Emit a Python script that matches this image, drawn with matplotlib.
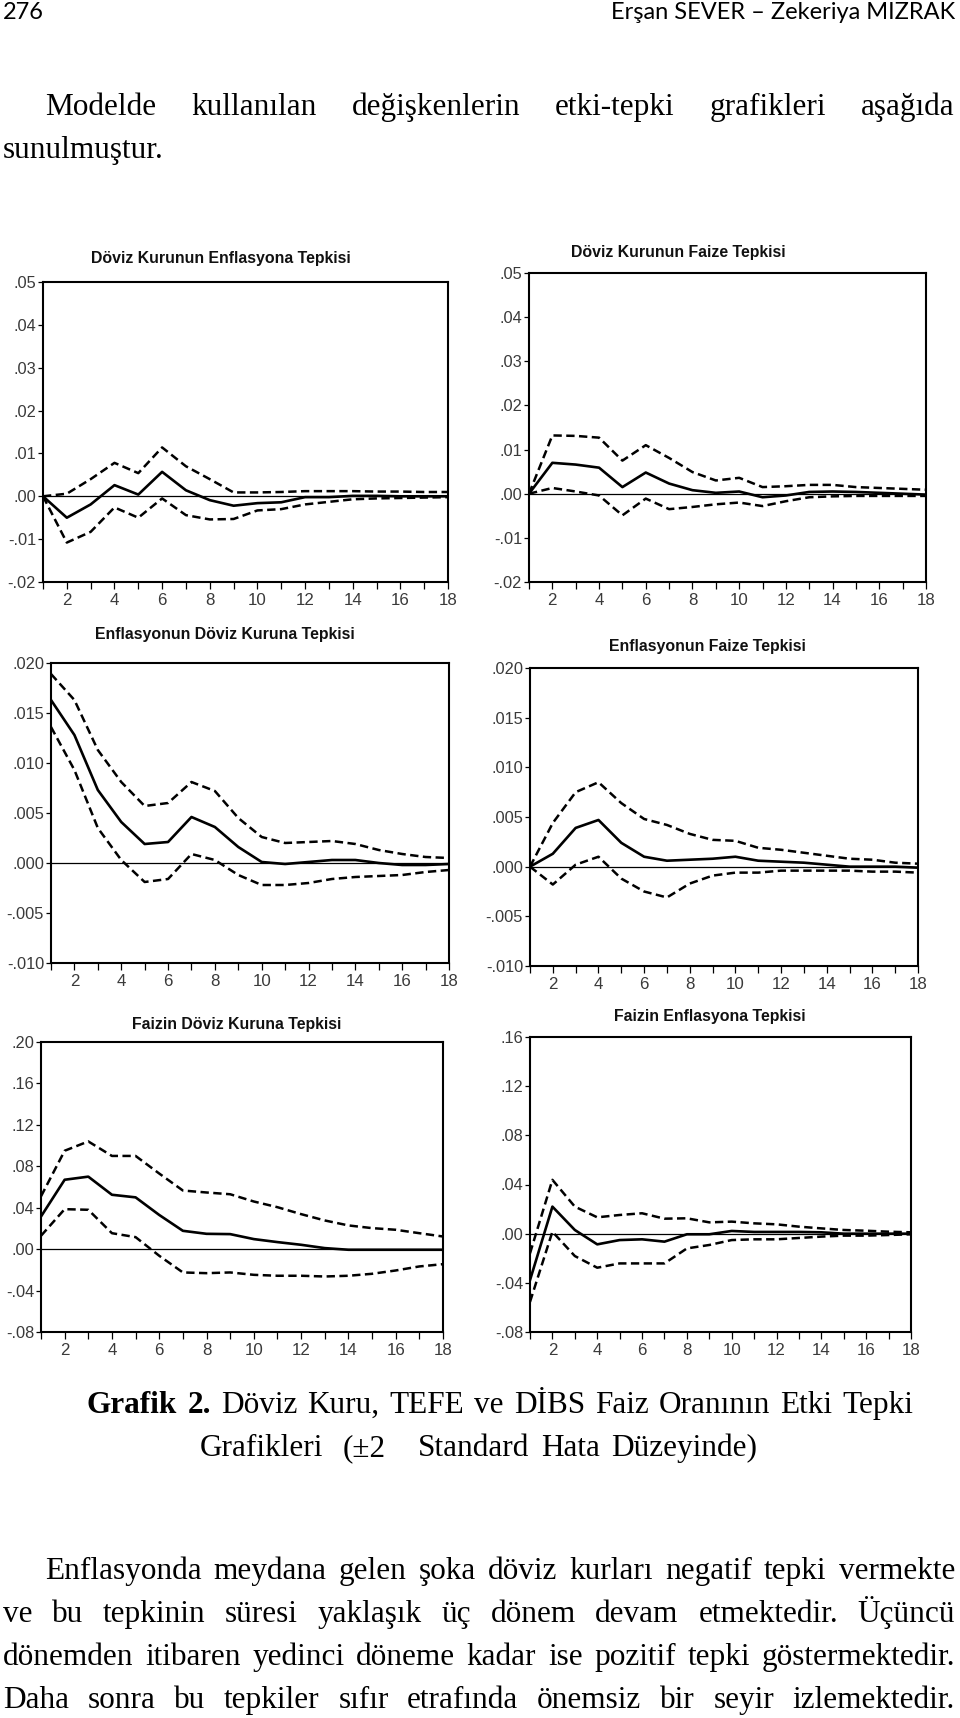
import matplotlib
matplotlib.use("Agg")
import matplotlib.pyplot as plt
import numpy as np

plt.rcParams['lines.scale_dashes'] = False

W, H = 960, 1718
fig = plt.figure(figsize=(W / 100, H / 100), dpi=100)
renderer = fig.canvas.get_renderer()

# ---------------- data ----------------
periods = list(range(1, 19))

kur_enf_resp  = [0.0, -0.0050, -0.0019, 0.0026, 0.0004, 0.0057, 0.0014, -0.0009, -0.0022,
                 -0.0016, -0.0014, -0.0002, -0.0002, 0.0001, 0.0001, 0.0, 0.0, 0.0]
kur_enf_upper = [0.0, 0.0006, 0.0040, 0.0078, 0.0054, 0.0114, 0.0070, 0.0040, 0.0009,
                 0.0009, 0.0010, 0.0012, 0.0012, 0.0012, 0.0011, 0.0011, 0.0010, 0.0010]
kur_enf_lower = [0.0, -0.0108, -0.0083, -0.0026, -0.0050, -0.0005, -0.0044, -0.0054, -0.0053,
                 -0.0033, -0.0030, -0.0019, -0.0013, -0.0007, -0.0005, -0.0004, -0.0003, -0.0002]

kur_faiz_resp  = [0.0, 0.0070, 0.0066, 0.0059, 0.0015, 0.0048, 0.0023, 0.0008, 0.0002,
                  0.0005, -0.0008, -0.0004, 0.0004, 0.0005, 0.0004, 0.0002, 0.0, -0.0002]
kur_faiz_upper = [0.0, 0.0132, 0.0131, 0.0127, 0.0075, 0.0110, 0.0081, 0.0049, 0.0030,
                  0.0036, 0.0015, 0.0017, 0.0020, 0.0020, 0.0015, 0.0013, 0.0011, 0.0009]
kur_faiz_lower = [0.0, 0.0013, 0.0005, -0.0004, -0.0049, -0.0011, -0.0035, -0.0030, -0.0024,
                  -0.0020, -0.0028, -0.0017, -0.0008, -0.0006, -0.0005, -0.0005, -0.0005, -0.0005]

enf_kur_resp  = [0.0163, 0.0128, 0.0073, 0.0041, 0.0019, 0.0021, 0.0046, 0.0036, 0.0016,
                 0.0001, -0.0001, 0.0001, 0.0003, 0.0003, 0.0, -0.0002, -0.0002, -0.0001]
enf_kur_upper = [0.0189, 0.0163, 0.0113, 0.0081, 0.0057, 0.0060, 0.0081, 0.0072, 0.0045,
                 0.0026, 0.0020, 0.0021, 0.0022, 0.0019, 0.0013, 0.0009, 0.0006, 0.0005]
enf_kur_lower = [0.0136, 0.0093, 0.0035, 0.0003, -0.0019, -0.0016, 0.0009, 0.0003, -0.0012,
                 -0.0022, -0.0022, -0.0020, -0.0016, -0.0014, -0.0013, -0.0012, -0.0009, -0.0007]

enf_faiz_resp  = [0.0, 0.0013, 0.0039, 0.0047, 0.0024, 0.0010, 0.0006, 0.0007, 0.0008,
                  0.0010, 0.0006, 0.0005, 0.0004, 0.0002, 0.0, 0.0, 0.0, -0.0001]
enf_faiz_upper = [0.0, 0.0044, 0.0075, 0.0085, 0.0064, 0.0048, 0.0042, 0.0033, 0.0027,
                  0.0026, 0.0019, 0.0017, 0.0014, 0.0011, 0.0008, 0.0007, 0.0004, 0.0003]
enf_faiz_lower = [0.0, -0.0018, 0.0002, 0.0010, -0.0012, -0.0025, -0.0031, -0.0017, -0.0009,
                  -0.0006, -0.0006, -0.0004, -0.0004, -0.0004, -0.0004, -0.0005, -0.0005, -0.0006]

faiz_kur_resp  = [0.0315, 0.0670, 0.0700, 0.0525, 0.0500, 0.0330, 0.0177, 0.0148, 0.0145,
                  0.0097, 0.0068, 0.0042, 0.0010, -0.0006, -0.0006, -0.0006, -0.0006, -0.0006]
faiz_kur_upper = [0.0510, 0.0950, 0.1040, 0.0900, 0.0900, 0.0730, 0.0566, 0.0547, 0.0530,
                  0.0460, 0.0405, 0.0338, 0.0277, 0.0229, 0.0203, 0.0187, 0.0154, 0.0122]
faiz_kur_lower = [0.0129, 0.0386, 0.0380, 0.0154, 0.0116, -0.0064, -0.0225, -0.0232, -0.0225,
                  -0.0248, -0.0257, -0.0257, -0.0264, -0.0257, -0.0238, -0.0206, -0.0167, -0.0145]

faiz_enf_resp  = [-0.0378, 0.0220, 0.0030, -0.0087, -0.0052, -0.0046, -0.0065, -0.0005, -0.0005,
                  0.0022, 0.0014, 0.0014, 0.0014, 0.0011, 0.0, 0.0, 0.0, 0.0]
faiz_enf_upper = [-0.0160, 0.0438, 0.0220, 0.0133, 0.0152, 0.0166, 0.0122, 0.0125, 0.0092,
                  0.0098, 0.0084, 0.0076, 0.0057, 0.0043, 0.0030, 0.0024, 0.0016, 0.0011]
faiz_enf_lower = [-0.0555, 0.0016, -0.0182, -0.0277, -0.0242, -0.0242, -0.0242, -0.0120, -0.0092,
                  -0.0052, -0.0046, -0.0046, -0.0035, -0.0024, -0.0016, -0.0016, -0.0011, -0.0005]

titles = ["Döviz Kurunun Enflasyona Tepkisi", "Döviz Kurunun Faize Tepkisi",
          "Enflasyonun Döviz Kuruna Tepkisi", "Enflasyonun Faize Tepkisi",
          "Faizin Döviz Kuruna Tepkisi", "Faizin Enflasyona Tepkisi"]

yticks_a = [-0.02, -0.01, 0.0, 0.01, 0.02, 0.03, 0.04, 0.05]
ylabels_a = ["-.02", "-.01", ".00", ".01", ".02", ".03", ".04", ".05"]
yticks_b = [-0.010, -0.005, 0.0, 0.005, 0.010, 0.015, 0.020]
ylabels_b = ["-.010", "-.005", ".000", ".005", ".010", ".015", ".020"]
yticks_c = [-0.08, -0.04, 0.0, 0.04, 0.08, 0.12, 0.16, 0.20]
ylabels_c = ["-.08", "-.04", ".00", ".04", ".08", ".12", ".16", ".20"]
yticks_d = [-0.08, -0.04, 0.0, 0.04, 0.08, 0.12, 0.16]
ylabels_d = ["-.08", "-.04", ".00", ".04", ".08", ".12", ".16"]

series = [
    (kur_enf_resp, kur_enf_upper, kur_enf_lower, yticks_a, ylabels_a),
    (kur_faiz_resp, kur_faiz_upper, kur_faiz_lower, yticks_a, ylabels_a),
    (enf_kur_resp, enf_kur_upper, enf_kur_lower, yticks_b, ylabels_b),
    (enf_faiz_resp, enf_faiz_upper, enf_faiz_lower, yticks_b, ylabels_b),
    (faiz_kur_resp, faiz_kur_upper, faiz_kur_lower, yticks_c, ylabels_c),
    (faiz_enf_resp, faiz_enf_upper, faiz_enf_lower, yticks_d, ylabels_d),
]

# ---------------- layout (pixels: left, right, top, bottom) ----------------
boxes = [(43, 448, 282, 582), (529, 926, 273, 582),
         (51, 449, 663, 963), (530, 918, 668, 966),
         (41, 443, 1042, 1332), (530, 911, 1037, 1332)]
title_pos = [(221, 258), (678, 252), (225, 635), (707, 647), (237, 1024), (710, 1017)]

SANS = ['Liberation Sans', 'DejaVu Sans']
for (resp, up, lo, yt, yl), (l, r, t, b), ttl, (tx, ty) in zip(series, boxes, titles, title_pos):
    ax = fig.add_axes([l / W, 1 - b / H, (r - l) / W, (b - t) / H])
    ax.axhline(0, color='black', lw=0.9, zorder=1)
    ax.plot(periods, up, color='black', lw=1.8, ls=(0, (6, 3.2)), zorder=2)
    ax.plot(periods, lo, color='black', lw=1.8, ls=(0, (6, 3.2)), zorder=2)
    ax.plot(periods, resp, color='black', lw=1.9, zorder=3)
    ax.set_xlim(1, 18)
    ax.set_ylim(yt[0], yt[-1])
    ax.set_xticks(periods)
    ax.set_xticklabels([str(p) if p % 2 == 0 else '' for p in periods])
    ax.set_yticks(yt)
    ax.set_yticklabels(yl)
    ax.tick_params(axis='y', direction='out', length=3.5, width=0.9, pad=1.5,
                   labelsize=11.8, labelcolor='#3a3a3a')
    ax.tick_params(axis='x', direction='out', length=5, width=0.9, pad=3,
                   labelsize=12.2, labelcolor='#3a3a3a')
    for lab in ax.get_xticklabels() + ax.get_yticklabels():
        lab.set_family(SANS)
    for s in ax.spines.values():
        s.set_linewidth(1.5)
    fig.text(tx / W, 1 - ty / H, ttl, ha='center', va='center', fontsize=11.4,
             weight='bold', family=SANS, color='#111111')

# ---------------- page text ----------------
SERIF = ['Liberation Serif', 'DejaVu Serif']
BODY = 22.5


def text_line(parts, baseline, x0, x1=None, size=BODY):
    words = []
    for s, wgt in parts:
        for w in s.split():
            words.append((w, wgt))
    while True:
        objs = [fig.text(0, 0, w, fontsize=size, family=SERIF, weight=wgt,
                         va='baseline', ha='left', color='black') for w, wgt in words]
        widths = [o.get_window_extent(renderer).width for o in objs]
        em = size * 100 / 72
        if x1 is None or len(words) == 1:
            gap = 0.25 * em
        else:
            gap = (x1 - x0 - sum(widths)) / (len(words) - 1)
        if gap < 0.12 * em and x1 is not None:
            for o in objs:
                o.remove()
            size -= 0.25
            continue
        x = x0
        for o, w in zip(objs, widths):
            o.set_position((x / W, 1 - baseline / H))
            x += w + gap
        break


def fit_text(txt, baseline, x_right, width, family, ha='right'):
    o = fig.text(x_right / W, 1 - baseline / H, txt, fontsize=16, family=family,
                 va='baseline', ha=ha, color='black')
    wd = o.get_window_extent(renderer).width
    o.set_fontsize(16 * width / wd)
    return o


HEAD = ['Lato', 'DejaVu Sans']
fig.text(3 / W, 1 - 19 / H, "276", fontsize=17, family=HEAD, va='baseline',
         ha='left', color='black')
fit_text("Erşan SEVER – Zekeriya MIZRAK", 19, 955, 345, HEAD)

text_line([("Modelde kullanılan değişkenlerin etki-tepki grafikleri aşağıda", 'normal')], 115, 45, 955)
text_line([("sunulmuştur.", 'normal')], 158, 3)

text_line([("Grafik 2.", 'bold'), ("Döviz Kuru, TEFE ve DİBS Faiz Oranının Etki Tepki", 'normal')],
          1413, 87, 913)
text_line([("Grafikleri", 'normal')], 1456, 200)
text_line([("(±2", 'normal')], 1456, 343)
text_line([("Standard Hata Düzeyinde)", 'normal')], 1456, 418, 757)

text_line([("Enflasyonda meydana gelen şoka döviz kurları negatif tepki vermekte", 'normal')], 1579, 45, 955)
text_line([("ve bu tepkinin süresi yaklaşık üç dönem devam etmektedir. Üçüncü", 'normal')], 1622, 3, 955)
text_line([("dönemden itibaren yedinci döneme kadar ise pozitif tepki göstermektedir.", 'normal')], 1665, 3, 955)
text_line([("Daha sonra bu tepkiler sıfır etrafında önemsiz bir seyir izlemektedir.", 'normal')], 1708, 3, 955)

fig.savefig("out.png", dpi=100, facecolor='white')
